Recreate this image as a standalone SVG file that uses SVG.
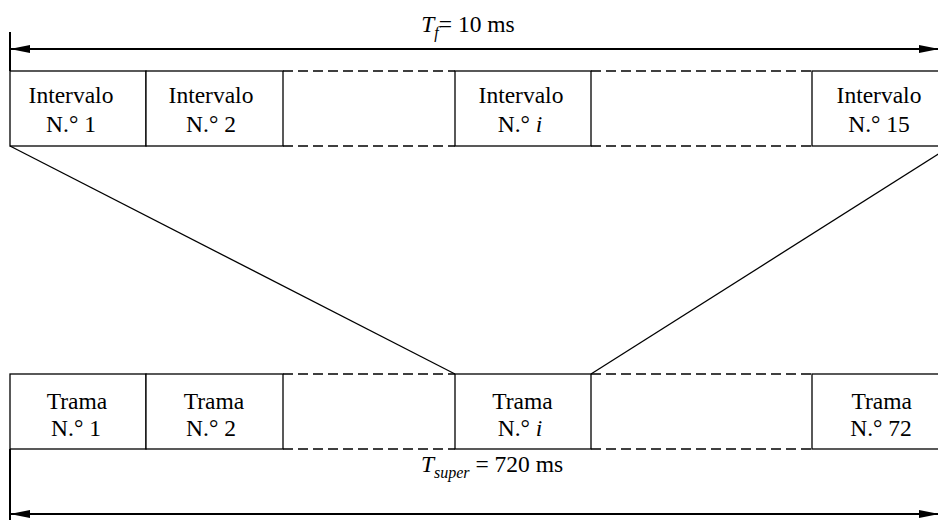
<svg xmlns="http://www.w3.org/2000/svg" width="938" height="520" viewBox="0 0 938 520" font-family="'Liberation Serif', 'Times New Roman', serif">
  <defs>
    <marker id="head" viewBox="0 0 20 8" refX="20" refY="4" markerWidth="20" markerHeight="8" markerUnits="userSpaceOnUse" orient="auto-start-reverse">
      <path d="M0,0 L20,4 L0,8 Z" fill="#000"/>
    </marker>
    <style>
      .box { fill: #fff; stroke: #000; stroke-width: 1.3; }
      .dash { fill: none; stroke: #000; stroke-width: 1.6; stroke-dasharray: 10 5; }
      .dim { fill: none; stroke: #000; stroke-width: 2; }
      .ext { fill: none; stroke: #000; stroke-width: 2; }
      .link { fill: none; stroke: #000; stroke-width: 1.3; }
      text { font-family: 'Liberation Serif', 'Times New Roman', serif; font-size: 23.5px; fill: #000; text-anchor: middle; }
      .it { font-style: italic; }
    </style>
  </defs>

  <rect width="938" height="520" fill="#fff"/>

  <!-- Upper frame: 15 slots -->
  <g id="slot-1">
    <rect class="box" x="10" y="71" width="136" height="75"/>
    <text x="71" y="103">Intervalo</text>
    <text x="71" y="131.5">N.° 1</text>
  </g>
  <g id="slot-2">
    <rect class="box" x="146" y="71" width="137" height="75"/>
    <text x="211" y="103">Intervalo</text>
    <text x="211" y="131.5">N.° 2</text>
  </g>
  <g id="slot-gap-a">
    <line class="dash" x1="283" y1="71" x2="455" y2="71"/>
    <line class="dash" x1="283" y1="146" x2="455" y2="146"/>
  </g>
  <g id="slot-i">
    <rect class="box" x="455" y="71" width="136" height="75"/>
    <text x="521" y="103">Intervalo</text>
    <text x="520" y="131.5">N.° <tspan class="it">i</tspan></text>
  </g>
  <g id="slot-gap-b">
    <line class="dash" x1="591" y1="71" x2="812" y2="71"/>
    <line class="dash" x1="591" y1="146" x2="812" y2="146"/>
  </g>
  <g id="slot-15">
    <rect class="box" x="812" y="71" width="137" height="75"/>
    <text x="879" y="103">Intervalo</text>
    <text x="879" y="131.5">N.° 15</text>
  </g>

  <!-- Lower superframe: 72 frames -->
  <g id="frame-1">
    <rect class="box" x="10" y="374" width="136" height="75"/>
    <text x="77" y="409">Trama</text>
    <text x="76" y="436">N.° 1</text>
  </g>
  <g id="frame-2">
    <rect class="box" x="146" y="374" width="137" height="75"/>
    <text x="214" y="409">Trama</text>
    <text x="211" y="436">N.° 2</text>
  </g>
  <g id="frame-gap-a">
    <line class="dash" x1="283" y1="374" x2="455" y2="374"/>
    <line class="dash" x1="283" y1="449" x2="455" y2="449"/>
  </g>
  <g id="frame-i">
    <rect class="box" x="455" y="374" width="136" height="75"/>
    <text x="522.5" y="409">Trama</text>
    <text x="520" y="436">N.° <tspan class="it">i</tspan></text>
  </g>
  <g id="frame-gap-b">
    <line class="dash" x1="591" y1="374" x2="812" y2="374"/>
    <line class="dash" x1="591" y1="449" x2="812" y2="449"/>
  </g>
  <g id="frame-72">
    <rect class="box" x="812" y="374" width="137" height="75"/>
    <text x="881.7" y="409">Trama</text>
    <text x="881" y="436">N.° 72</text>
  </g>

  <!-- Expansion lines: frame i opens into the 15 slots -->
  <g id="connectors">
    <line class="link" x1="10" y1="146" x2="455" y2="374"/>
    <line class="link" x1="951" y1="146" x2="591" y2="374"/>
  </g>

  <!-- Duration dimensions -->
  <g id="dim-frame">
    <line class="ext" x1="10" y1="32" x2="10" y2="71"/>
    <line class="dim" x1="10" y1="49" x2="939" y2="49" marker-start="url(#head)" marker-end="url(#head)"/>
    <text x="468" y="32"><tspan class="it">T</tspan><tspan class="it" font-size="16" dy="6">f</tspan><tspan dy="-6">= 10 ms</tspan></text>
  </g>
  <g id="dim-superframe">
    <line class="ext" x1="10" y1="449" x2="10" y2="520"/>
    <line class="dim" x1="10" y1="514" x2="939" y2="514" marker-start="url(#head)" marker-end="url(#head)"/>
    <text x="492" y="472"><tspan class="it">T</tspan><tspan class="it" font-size="16" dy="6">super</tspan><tspan dy="-6"> = 720 ms</tspan></text>
  </g>
</svg>
